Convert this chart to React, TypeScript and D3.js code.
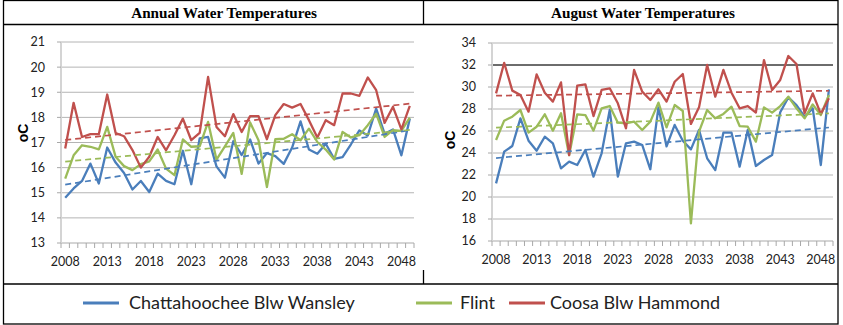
import React from 'react';
import * as d3 from 'd3';

// categories
const years = d3.range(2008, 2050);
const yearLabels = [2008, 2013, 2018, 2023, 2028, 2033, 2038, 2043, 2048];

const seriesNames = ['Chattahoochee Blw Wansley', 'Flint', 'Coosa Blw Hammond'];
const seriesColors = ['#4a7ebb', '#9bbb59', '#c0504d'];

// annual water temperatures (oC)
const annualChattahoochee = [14.8, 15.17, 15.47, 16.16, 15.37, 16.8, 16.2, 15.79, 15.13, 15.47, 15.03, 15.76, 15.47, 15.34, 16.67, 15.34, 17.16, 17.22, 16.05, 15.6, 17.05, 16.5, 17.12, 16.16, 16.58, 16.46, 16.15, 16.8, 17.84, 16.72, 16.55, 16.95, 16.35, 16.42, 16.93, 17.48, 17.28, 18.35, 17.35, 17.52, 16.49, 17.95];
const annualFlint = [15.56, 16.49, 16.89, 16.83, 16.73, 17.62, 16.43, 16.06, 15.9, 16.14, 16.25, 16.72, 15.96, 15.7, 17.12, 16.83, 16.85, 17.82, 16.32, 16.85, 17.38, 15.75, 17.8, 17.09, 15.23, 17.13, 17.15, 17.33, 17.09, 17.55, 17.02, 16.72, 16.32, 17.42, 17.2, 17.29, 17.69, 18.15, 17.22, 17.49, 17.46, 17.99];
const annualCoosa = [16.76, 18.58, 17.22, 17.33, 17.33, 18.91, 17.38, 17.25, 16.7, 16.0, 16.43, 17.22, 16.69, 17.29, 17.95, 17.09, 17.38, 19.61, 17.62, 17.25, 18.13, 17.42, 18.05, 18.05, 17.13, 18.09, 18.53, 18.39, 18.53, 17.89, 17.2, 17.89, 17.69, 18.95, 18.95, 18.86, 19.59, 19.08, 17.78, 18.42, 17.52, 18.46];
const annualTicks = [13, 14, 15, 16, 17, 18, 19, 20, 21];

// august water temperatures (oC)
const augustChattahoochee = [21.24, 24.12, 24.64, 27.15, 25.12, 24.21, 25.48, 24.88, 22.61, 23.21, 22.91, 24.27, 21.85, 23.97, 27.91, 21.85, 24.88, 25.03, 24.73, 22.52, 28.15, 24.6, 26.55, 25.12, 24.33, 26.09, 23.52, 22.45, 25.85, 25.85, 22.76, 26.09, 22.82, 23.36, 23.82, 27.7, 29.05, 28.36, 27.3, 28.06, 22.91, 29.79];
const augustFlint = [25.18, 26.94, 27.3, 27.91, 25.85, 26.39, 27.52, 26.03, 27.61, 23.8, 27.52, 27.45, 26.03, 28.06, 28.27, 26.76, 26.7, 26.85, 26.09, 26.85, 28.58, 26.33, 28.36, 27.82, 17.6, 25.94, 27.91, 27.15, 27.55, 28.21, 26.45, 26.39, 25.03, 28.15, 27.67, 28.27, 29.12, 28.06, 27.15, 28.42, 27.45, 29.27];
const augustCoosa = [29.42, 32.2, 29.67, 29.27, 27.76, 31.15, 29.48, 28.67, 30.42, 23.8, 30.12, 30.24, 27.36, 29.73, 29.88, 28.52, 26.24, 31.55, 29.58, 28.82, 29.79, 28.67, 30.48, 31.18, 26.64, 28.15, 32.0, 29.12, 31.55, 29.48, 28.06, 28.27, 27.67, 32.45, 29.73, 30.64, 32.82, 32.09, 27.6, 29.42, 27.55, 28.97];
const augustTicks = [16, 18, 20, 22, 24, 26, 28, 30, 32, 34];
const augustThreshold = 32;

const tickFont = 'Lato, "Liberation Sans", Arial, sans-serif';
const titleFont = '"Liberation Serif", "Times New Roman", serif';

// linear trend (least squares over the category index), like Excel's trendline
function trend(values: number[]) {
  const n = values.length;
  const mx = d3.mean(values.map((_, i) => i))!;
  const my = d3.mean(values)!;
  let sxy = 0, sxx = 0;
  values.forEach((v, i) => { sxy += (i - mx) * (v - my); sxx += (i - mx) * (i - mx); });
  const b = sxy / sxx;
  const a = my - b * mx;
  return [a, a + b * (n - 1)];
}

type ChartProps = {
  series: number[][];
  yTicks: number[];
  left: number; right: number; top: number; bottom: number;
  threshold?: number;
  oCX: number; oCY: number;
};

function TempChart({ series, yTicks, left, right, top, bottom, threshold, oCX, oCY }: ChartProps) {
  const x = d3.scaleBand<number>().domain(years).range([left, right]);
  const cx = (yr: number) => x(yr)! + x.bandwidth() / 2;
  const y = d3.scaleLinear().domain([yTicks[0], yTicks[yTicks.length - 1]]).range([bottom, top]);
  const line = d3.line<number>().x((_, i) => cx(years[i])).y(v => y(v));

  return (
    <g>
      {yTicks.slice(1).map(t => (
        <line key={t} x1={left} x2={right} y1={y(t)} y2={y(t)} stroke="#b4b4b4" strokeWidth={1} />
      ))}
      {threshold !== undefined && (
        <line x1={left} x2={right} y1={y(threshold)} y2={y(threshold)} stroke="#000" strokeWidth={1.2} />
      )}
      {/* axes */}
      <line x1={left} x2={left} y1={top} y2={bottom} stroke="#d4d4d4" strokeWidth={2} />
      <line x1={left} x2={right} y1={bottom} y2={bottom} stroke="#d4d4d4" strokeWidth={2} />
      {yTicks.map(t => (
        <g key={t}>
          <line x1={left - 4} x2={left} y1={y(t)} y2={y(t)} stroke="#a8a8a8" />
          <text x={left - 16} y={y(t)} dy="0.35em" textAnchor="end" fontFamily={tickFont} fontSize={12.5} fill="#222">{t}</text>
        </g>
      ))}
      {[...years.map(yr => x(yr)!), right].map((bx, i) => (
        <line key={i} x1={bx} x2={bx} y1={bottom} y2={bottom + 5} stroke="#a8a8a8" />
      ))}
      {yearLabels.map(yr => (
        <text key={yr} x={cx(yr)} y={bottom + 19} dy="0.35em" textAnchor="middle" fontFamily={tickFont} fontSize={12.5} fill="#222">{yr}</text>
      ))}
      <text transform={`translate(${oCX},${oCY}) rotate(-90)`} textAnchor="middle" dy="0.35em"
        fontFamily='"Liberation Sans", Arial, sans-serif' fontWeight="bold" fontSize={14}>oC</text>
      {series.map((s, k) => (
        <path key={k} d={line(s)!} fill="none" stroke={seriesColors[k]} strokeWidth={2.3} strokeLinejoin="round" />
      ))}
      {series.map((s, k) => {
        const [t0, t1] = trend(s);
        return (
          <line key={'t' + k} x1={cx(years[0])} x2={cx(years[years.length - 1])} y1={y(t0)} y2={y(t1)}
            stroke={seriesColors[k]} strokeWidth={1.7} strokeDasharray="6,4" />
        );
      })}
    </g>
  );
}

export default function App() {
  const legendX = [[83, 129], [416, 460], [509, 550]];
  return (
    <svg width={843} height={325} style={{ position: 'absolute', left: 0, top: 0, background: '#fff' }}>
      {/* table frame */}
      <rect x={3.5} y={0.5} width={834.5} height={323.5} fill="none" stroke="#000" strokeWidth={1.3} />
      <line x1={3} x2={838} y1={24.5} y2={24.5} stroke="#000" strokeWidth={1.3} />
      <line x1={423.5} x2={423.5} y1={0} y2={24.5} stroke="#000" strokeWidth={1.3} />
      <line x1={423.5} x2={423.5} y1={270} y2={284} stroke="#000" strokeWidth={1.3} />
      <line x1={3} x2={838} y1={284} y2={284} stroke="#000" strokeWidth={1.3} />

      <text x={224} y={18} textAnchor="middle" fontFamily={titleFont} fontWeight="bold" fontSize={15.2}>Annual Water Temperatures</text>
      <text x={643} y={18} textAnchor="middle" fontFamily={titleFont} fontWeight="bold" fontSize={15.2}>August Water Temperatures</text>

      <TempChart series={[annualChattahoochee, annualFlint, annualCoosa]} yTicks={annualTicks}
        left={61} right={414} top={42} bottom={243} oCX={23} oCY={133} />
      <TempChart series={[augustChattahoochee, augustFlint, augustCoosa]} yTicks={augustTicks}
        left={492} right={833} top={43} bottom={241} threshold={augustThreshold} oCX={450} oCY={140} />

      {/* legend */}
      {seriesNames.map((name, k) => (
        <g key={name}>
          <line x1={legendX[k][0]} x2={legendX[k][0] + 36} y1={303} y2={303} stroke={seriesColors[k]} strokeWidth={3} />
          <text x={legendX[k][1]} y={303} dy="0.35em" fontFamily={tickFont} fontSize={18} fill="#222">{name}</text>
        </g>
      ))}
    </svg>
  );
}
